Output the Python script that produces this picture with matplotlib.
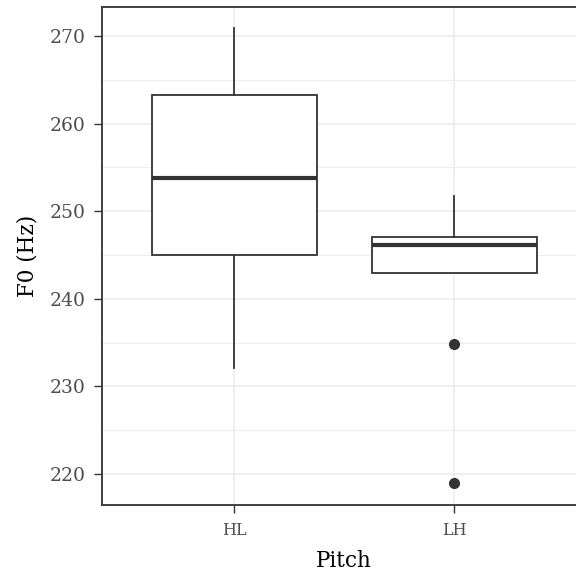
import matplotlib.pyplot as plt
from matplotlib.ticker import MultipleLocator

categories = ["HL", "LH"]
whisker_low = [232.1, 242.95]
q1 = [245.0, 242.95]
median = [253.8, 246.1]
q3 = [263.3, 247.05]
whisker_high = [270.9, 251.7]
outliers = [[], [234.8, 219.0]]

plt.rcParams['font.family'] = ['DejaVu Serif']

fig = plt.figure(figsize=(5.76, 5.80), dpi=100)
# panel runs past the right edge in the reference
ax = fig.add_axes([102 / 576, 75 / 580, 484 / 576, 498 / 580])

stats = []
for i in range(len(categories)):
    stats.append({
        "label": categories[i],
        "whislo": whisker_low[i],
        "q1": q1[i],
        "med": median[i],
        "q3": q3[i],
        "whishi": whisker_high[i],
        "fliers": outliers[i],
    })

ax.bxp(stats, positions=[1, 2], widths=0.75, showcaps=False, patch_artist=True,
       boxprops=dict(facecolor="white", edgecolor="#333333", linewidth=1.3),
       whiskerprops=dict(color="#333333", linewidth=1.3),
       medianprops=dict(color="#333333", linewidth=3),
       flierprops=dict(marker="o", markerfacecolor="#333333", markeredgecolor="#333333",
                       markersize=7),
       zorder=3)

ax.set_xlim(0.4, 2.6)
ax.set_ylim(216.46, 273.3)
ax.yaxis.set_major_locator(MultipleLocator(10))
ax.yaxis.set_minor_locator(MultipleLocator(5))

ax.grid(which="major", color="#EBEBEB", linewidth=1.1, zorder=0)
ax.grid(which="minor", axis="y", color="#EEEEEE", linewidth=0.8, zorder=0)
ax.set_axisbelow(True)

ax.tick_params(axis="both", which="major", length=5.5, width=1, color="#333333",
               labelcolor="#4D4D4D")
ax.tick_params(axis="y", labelsize=13.5, pad=6)
ax.tick_params(axis="x", labelsize=11.5, pad=7)
ax.tick_params(which="minor", length=0)

for sp in ax.spines.values():
    sp.set_color("#333333")
    sp.set_linewidth(1.3)

ax.set_xlabel("Pitch", fontsize=15.5, labelpad=8)
ax.set_ylabel("F0 (Hz)", fontsize=15.5, labelpad=8)

fig.savefig("out.png", dpi=100)
